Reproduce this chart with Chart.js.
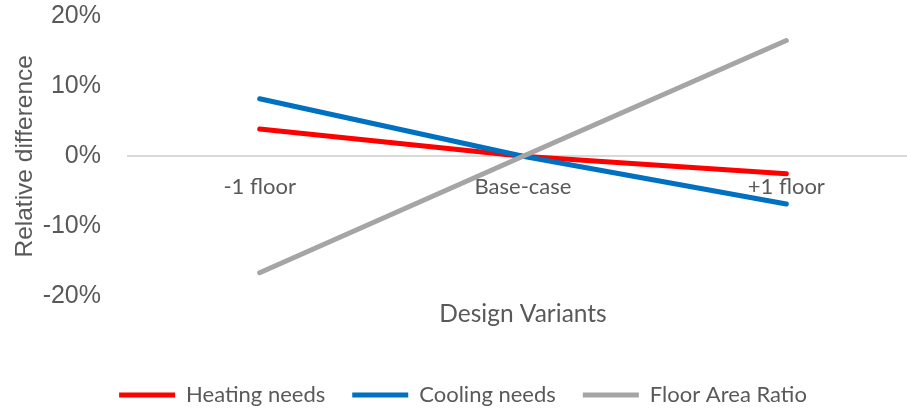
<!DOCTYPE html>
<html>
<head>
<meta charset="utf-8">
<script src="https://cdn.jsdelivr.net/npm/chart.js@4.4.1/dist/chart.umd.min.js"></script>
<style>
  html, body { margin: 0; padding: 0; background: #ffffff; overflow: hidden; }
  #frame { width: 907px; height: 410px; overflow: hidden; position: relative; }
  #wrap { width: 918px; height: 410px; position: absolute; left: 0; top: 0; }
</style>
</head>
<body>
<div id="frame"><div id="wrap"><canvas id="chart"></canvas></div></div>
<script>
// Design variants compared against the base case
const categories = ['-1 floor', 'Base-case', '+1 floor'];

// Relative difference to the base case, in percent
const heatingNeeds = [3.9, 0, -2.5];
const coolingNeeds = [8.2, 0, -6.8];
const floorAreaRatio = [-16.6, 0, 16.5];

// Value axis ticks (percent)
const yTicks = [-20, -10, 0, 10, 20];

const textColor = '#595959';
const sansLabel = "Lato, 'Open Sans', sans-serif";
const sansAxis = "'Liberation Sans', Arial, sans-serif";

const lineDataset = (label, data, color, order) => ({
  label,
  data,
  borderColor: color,
  backgroundColor: color,
  borderWidth: 5,
  borderCapStyle: 'round',
  borderJoinStyle: 'round',
  pointRadius: 0,
  pointHoverRadius: 0,
  tension: 0,
  fill: false,
  order
});

new Chart(document.getElementById('chart'), {
  type: 'line',
  data: {
    labels: categories,
    datasets: [
      lineDataset('Heating needs', heatingNeeds, '#FF0000', 2),
      lineDataset('Cooling needs', coolingNeeds, '#0070C0', 1),
      lineDataset('Floor Area Ratio', floorAreaRatio, '#A5A5A5', 0)
    ]
  },
  options: {
    responsive: true,
    maintainAspectRatio: false,
    animation: false,
    layout: { padding: { left: 8, right: 0, top: 16, bottom: -6 } },
    plugins: {
      tooltip: { enabled: false },
      legend: {
        position: 'bottom',
        labels: {
          usePointStyle: true,
          pointStyle: 'line',
          pointStyleWidth: 56,
          boxHeight: 22,
          padding: 27,
          color: textColor,
          font: { family: sansLabel, size: 22 },
          sort: (a, b) => a.datasetIndex - b.datasetIndex
        }
      }
    },
    scales: {
      x: {
        type: 'category',
        position: { y: 0 },
        offset: true,
        grid: { display: false, drawTicks: false },
        border: { display: true, color: '#D9D9D9', width: 2 },
        ticks: {
          color: textColor,
          padding: 17,
          maxRotation: 0,
          font: { family: sansLabel, size: 22 }
        }
      },
      x2: {
        type: 'category',
        position: 'bottom',
        labels: categories,
        offset: true,
        grid: { display: false, drawTicks: false },
        border: { display: false },
        ticks: { display: false },
        title: {
          display: true,
          text: 'Design Variants',
          color: textColor,
          font: { family: sansLabel, size: 24.5 },
          padding: { top: 3, bottom: 28 }
        }
      },
      y: {
        min: -20,
        max: 20,
        afterBuildTicks: (scale) => { scale.ticks = yTicks.map(v => ({ value: v })); },
        afterFit: (scale) => {
          scale.width = 120;
          scale.paddingTop = 0;
          scale.paddingBottom = 0;
        },
        grid: { display: false, drawTicks: false },
        border: { display: false },
        ticks: {
          color: textColor,
          padding: 27,
          font: { family: sansAxis, size: 25 },
          callback: (v) => v + '%'
        },
        title: {
          display: true,
          text: 'Relative difference',
          color: textColor,
          font: { family: sansAxis, size: 24.5 },
          padding: { top: 3, bottom: 0 }
        }
      }
    }
  }
});
</script>
</body>
</html>
